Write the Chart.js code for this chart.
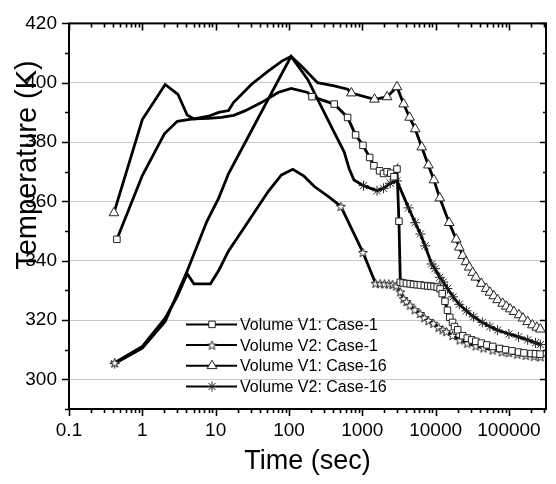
<!DOCTYPE html>
<html>
<head>
<meta charset="utf-8">
<script src="https://cdn.jsdelivr.net/npm/chart.js@4.4.1/dist/chart.umd.min.js"></script>
<style>
  html, body { margin: 0; padding: 0; background: #fff; }
</style>
</head>
<body>
<canvas id="myChart" width="556" height="484"></canvas>
<script>
// series names (legend order)
const seriesNames = ["Volume V1: Case-1", "Volume V2: Case-1", "Volume V1: Case-16", "Volume V2: Case-16"];

// [time (s), temperature (K)]
const v1Case1 = [
  [0.45, 347.2], [1, 368.7], [2, 382.8], [3, 387], [4, 387.5], [5, 387.8], [8, 388], [12, 388.3],
  [17.6, 389], [25, 390.5], [42, 393.3], [71, 396.7], [107, 398.1], [180, 396.7], [206, 395.3],
  [414, 392.8], [630, 388.3], [810, 382.4], [1020, 378.9],
  [1260, 374.8], [1440, 372], [1720, 370.3], [1950, 369.4], [2180, 370], [2450, 369.5], [2700, 368.3],
  [2970, 370.9], [3160, 353.3], [3300, 332.7], [3600, 332.5], [4000, 332.3], [4500, 332.2], [5000, 332],
  [5600, 331.9], [6200, 331.8], [7000, 331.6], [7800, 331.5], [8600, 331.4], [9500, 331.3], [10500, 331.1],
  [11500, 330.5], [12300, 328.9], [13400, 326.3], [14500, 323.3], [15600, 320.9], [17000, 319.2],
  [18100, 317.8], [20000, 316.7], [23400, 314.7], [27000, 313.9], [31000, 313.3], [35300, 312.8],
  [42000, 312.2], [50000, 311.6], [60000, 311.1], [75000, 310.4], [90000, 310], [110000, 309.6],
  [135000, 309.2], [160000, 308.9], [200000, 308.7], [230000, 308.6], [265000, 308.5]
];
const v2Case1 = [
  [0.42, 305.6], [1, 311.1], [2.05, 320.6], [3, 328], [4.09, 335.6], [5.05, 332.2], [8.5, 332.2],
  [11, 336.7], [15, 343.3], [28, 353.3], [52, 363.3], [79, 368.9], [113, 370.8], [160, 368.5],
  [222, 365], [350, 361.5], [510, 358.3], [1020, 342.8], [1515, 332.4], [1750, 332.3], [2000, 332.2],
  [2300, 332.2], [2600, 332], [2900, 331.5], [3300, 329.5], [3660, 327.2], [4000, 326.2], [4470, 325],
  [5200, 323.5], [6130, 322.2], [7000, 320.8], [8000, 319.8], [9300, 318.9], [11000, 317.5],
  [12500, 316.7], [14000, 316.1], [17000, 314.8], [21300, 313.3], [27000, 312.2], [35300, 311.3],
  [45000, 310.6], [60000, 309.9], [80000, 309.3], [100000, 309], [130000, 308.5], [170000, 308.1],
  [220000, 307.8], [270000, 307.6]
];
const v1Case16 = [
  [0.41, 356.1], [1, 387.6], [2.05, 399.4], [3.06, 396.1], [4.09, 389.1], [5.05, 387.8], [8, 388.7],
  [11, 390], [15, 390.6], [17.5, 393.3], [30.6, 399.4], [52, 403.9], [80, 407.3], [107, 408.9],
  [150, 405.5], [245, 400], [414, 398.9], [630, 397.8], [710, 396.5], [1466, 394.4],
  [2178, 395.2], [2970, 398.6], [3660, 392.8],
  [4420, 388.3], [5260, 384.4], [6460, 378.3], [7960, 372.2],
  [9480, 367.2], [11400, 361.1], [15300, 352.8],
  [19100, 347.2], [21000, 344.5], [23400, 341.7], [26000, 339.6], [28700, 337.8], [32000, 336],
  [35300, 334.4], [42000, 332.3], [49000, 330.6], [55000, 329.3], [62000, 328.1], [70000, 326.8],
  [82000, 325.6], [92000, 324.6], [104000, 323.7], [117000, 322.8], [137000, 321.7], [155000, 320.6],
  [180000, 319.4], [209000, 318.3], [240000, 317.5], [268000, 316.9]
];
const v2Case16 = [
  [0.42, 305.3], [1, 310.5], [2.05, 319.5], [4.09, 336.5], [7.6, 353.3], [11, 361.1], [15, 369.4],
  [30, 383.3], [50, 393.6], [80, 403.1], [107, 408.9], [180, 401.1], [302, 390], [414, 383.3],
  [565, 376.7], [660, 371.1], [770, 367.2], [1040, 365.3], [1590, 363.6], [1950, 364.4], [2400, 366.1],
  [2970, 366.9], [4270, 357.8], [5260, 352.8], [6200, 349], [7170, 345], [8830, 338.9], [9800, 337.3],
  [11400, 334.4], [12700, 332.8], [14500, 330.6], [17300, 327.8], [21000, 325.3], [26300, 323.1],
  [33000, 321.1], [43300, 319.2], [55000, 317.8], [70000, 316.6], [100000, 315.3], [135000, 314.3],
  [180000, 313.3], [230000, 312.3], [268000, 311.7]
];

// markers are only shown from these times on (plus the first point)
const markerFrom = [200, 500, 700, 1000];

// axis ticks
const xTickLabels = ["0.1", "1", "10", "100", "1000", "10000", "100000"];
const yTickLabels = [300, 320, 340, 360, 380, 400, 420];

const FONT = '"Liberation Sans", Arial, sans-serif';

// open five-point star marker
function makeStar(size) {
  const c = document.createElement("canvas");
  c.width = c.height = size;
  const g = c.getContext("2d");
  const cx = size / 2, cy = size / 2 + 0.5, R = size / 2 - 0.8, r = R * 0.42;
  g.beginPath();
  for (let i = 0; i < 10; i++) {
    const a = -Math.PI / 2 + i * Math.PI / 5;
    const rr = i % 2 ? r : R;
    g.lineTo(cx + rr * Math.cos(a), cy + rr * Math.sin(a));
  }
  g.closePath();
  g.fillStyle = "#fff";
  g.fill();
  g.lineWidth = 1;
  g.strokeStyle = "#222";
  g.stroke();
  return c;
}
const starImg = makeStar(11);

const markerStyles = [
  { pointStyle: "rect", radius: 4.6 },
  { pointStyle: starImg, radius: 4.5 },
  { pointStyle: "triangle", radius: 5.6 },
  { pointStyle: "star", radius: 5 },
];

const allSeries = [v1Case1, v2Case1, v1Case16, v2Case16];

const datasets = allSeries.map((s, i) => ({
  label: seriesNames[i],
  data: s.map((p) => ({ x: p[0], y: p[1] })),
  borderColor: "#000",
  borderWidth: 2.8,
  tension: 0,
  fill: false,
  pointStyle: markerStyles[i].pointStyle,
  pointRadius: (c) => (c.dataIndex === 0 || (c.raw && c.raw.x >= markerFrom[i]) ? markerStyles[i].radius : 0),
  pointBackgroundColor: "#fff",
  pointBorderColor: "#222",
  pointBorderWidth: 1,
}));

function isDecade(v) {
  const l = Math.log10(v);
  return Math.abs(l - Math.round(l)) < 1e-9;
}

// frame, tick marks, legend and axis titles
const frame = {
  id: "frame",
  afterDatasetsDraw(chart) {
    const ctx = chart.ctx;
    const a = chart.chartArea;
    const xs = chart.scales.x, ys = chart.scales.y;
    ctx.save();
    ctx.strokeStyle = "#000";
    ctx.lineWidth = 1.6;
    ctx.beginPath();
    for (let e = -1; e <= 5; e++) {
      for (let m = 1; m <= 9; m++) {
        const v = m * Math.pow(10, e);
        if (v > xs.max) continue;
        const px = Math.round(xs.getPixelForValue(v)) + 0.5;
        const len = m === 1 ? 7 : 4;
        ctx.moveTo(px, a.bottom);
        ctx.lineTo(px, a.bottom + len);
        ctx.moveTo(px, a.top);
        ctx.lineTo(px, a.top + len);
      }
    }
    for (let v = ys.min; v <= ys.max; v += 10) {
      const py = Math.round(ys.getPixelForValue(v)) + 0.5;
      const len = v % 20 === 0 ? 7 : 4;
      ctx.moveTo(a.left, py);
      ctx.lineTo(a.left - len, py);
      ctx.moveTo(a.right, py);
      ctx.lineTo(a.right - len + 1, py);
    }
    ctx.stroke();
    ctx.lineWidth = 2;
    ctx.strokeRect(a.left, a.top, a.right - a.left, a.bottom - a.top);
    ctx.restore();
  },
  afterDraw(chart) {
    const ctx = chart.ctx;
    const a = chart.chartArea;
    ctx.save();
    // legend
    const lx = a.left + 117, ly = a.top + 301;
    ctx.font = "16px " + FONT;
    ctx.textBaseline = "middle";
    ctx.textAlign = "left";
    seriesNames.forEach((name, i) => {
      const y = ly + i * 20.7;
      ctx.strokeStyle = "#000";
      ctx.lineWidth = 2;
      ctx.beginPath();
      ctx.moveTo(lx, y);
      ctx.lineTo(lx + 51, y);
      ctx.stroke();
      ctx.fillStyle = "#fff";
      ctx.strokeStyle = "#222";
      ctx.lineWidth = 1;
      Chart.helpers.drawPoint(ctx, {
        pointStyle: markerStyles[i].pointStyle,
        radius: markerStyles[i].radius,
        borderWidth: 1,
        rotation: 0,
      }, lx + 26, y);
      ctx.fillStyle = "#000";
      ctx.fillText(name, lx + 54, y + 1);
    });
    // axis titles
    ctx.fillStyle = "#000";
    ctx.font = "27px " + FONT;
    ctx.textAlign = "center";
    ctx.textBaseline = "alphabetic";
    ctx.fillText("Time (sec)", (a.left + a.right) / 2, 469);
    ctx.translate(36, 165);
    ctx.rotate(-Math.PI / 2);
    ctx.font = "29px " + FONT;
    ctx.fillText("Temperature (K)", 0, 0);
    ctx.restore();
  },
};

const ctx = document.getElementById("myChart").getContext("2d");
const chart = new Chart(ctx, {
  type: "line",
  data: { datasets: datasets },
  options: {
    responsive: false,
    devicePixelRatio: 1,
    animation: false,
    layout: { padding: { top: 20, right: 5, left: 0, bottom: 0 } },
    plugins: { legend: { display: false }, tooltip: { enabled: false } },
    scales: {
      x: {
        type: "logarithmic",
        min: 0.1,
        max: 320000,
        grid: { display: false, drawTicks: false },
        border: { display: false },
        ticks: {
          autoSkip: false,
          maxRotation: 0,
          minRotation: 0,
          padding: 10,
          color: "#000",
          font: { size: 19, family: FONT },
          callback: (v) => (isDecade(v) ? xTickLabels[Math.round(Math.log10(v)) + 1] : ""),
        },
        afterFit: (s) => { s.height = 75; },
      },
      y: {
        min: 290,
        max: 420,
        grid: {
          drawTicks: false,
          lineWidth: 1,
          color: (c) => (c.tick && c.tick.value % 20 === 0 && c.tick.value >= 300 && c.tick.value <= 400 ? "#c8c8c8" : "rgba(0,0,0,0)"),
        },
        border: { display: false },
        ticks: {
          stepSize: 10,
          padding: 12,
          color: "#000",
          font: { size: 19, family: FONT },
          callback: (v) => (yTickLabels.includes(v) ? String(v) : ""),
        },
        afterFit: (s) => { s.width = 69; },
      },
    },
  },
  plugins: [frame],
});
</script>
</body>
</html>
